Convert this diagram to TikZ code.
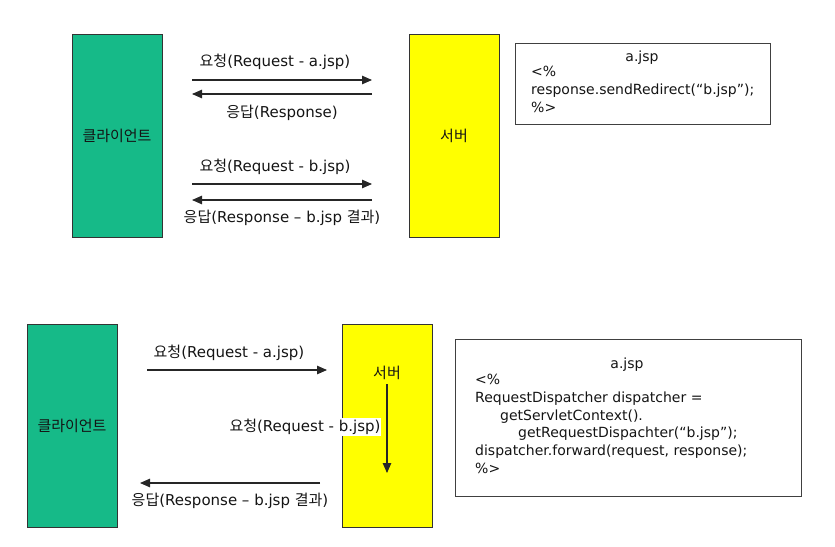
\documentclass[tikz,border=0pt]{standalone}
\usepackage{fontspec}
\setmainfont{DejaVu Sans}
\newfontfamily\krfont{Noto Sans CJK KR}
\newcommand{\kr}[1]{{\krfont #1}}
\usetikzlibrary{arrows.meta,positioning}
\definecolor{clientgreen}{RGB}{22,186,136}
\definecolor{serveryellow}{RGB}{255,255,0}

\begin{document}
\begin{tikzpicture}[x=1pt, y=-1pt, font=\fontsize{15}{18}\selectfont,
                    every node/.style={inner sep=1pt, text=black!92},
                    actor/.style={draw=black!80, line width=0.9pt, minimum width=90pt, minimum height=203pt},
                    msg/.style={draw=black!85, line width=1.1pt, -{Triangle[length=10pt,width=8.5pt]}},
                    codebox/.style={draw=black!75, line width=0.9pt},
                    code/.style={font=\fontsize{14}{17.8}\selectfont}]
\useasboundingbox (0,0) rectangle (835,546);
% sendRedirect
\node[actor, fill=clientgreen] (clientA) at (117,135.5) {\kr{클라이언트}};
\node[actor, fill=serveryellow] (serverA) at (454,135.5) {\kr{서버}};
\coordinate (reqAs) at (192,80);  \coordinate (reqAe) at (372,80);
\coordinate (resAs) at (372,94);  \coordinate (resAe) at (192,94);
\coordinate (reqBs) at (192,184); \coordinate (reqBe) at (372,184);
\coordinate (resBs) at (372,200); \coordinate (resBe) at (192,200);
\draw[msg] (reqAs) -- (reqAe);
\draw[msg] (resAs) -- (resAe);
\draw[msg] (reqBs) -- (reqBe);
\draw[msg] (resBs) -- (resBe);
\node (reqAlbl) at (275,62)  {\kr{요청}(Request - a.jsp)};
\node (resAlbl) at (282,113) {\kr{응답}(Response)};
\node (reqBlbl) at (275,167) {\kr{요청}(Request - b.jsp)};
\node (resBlbl) at (282,218) {\kr{응답}(Response – b.jsp \kr{결과})};
\node[codebox, minimum width=255pt, minimum height=81pt] (codeA) at (642.5,83.5) {};
\node[code] (codeAtitle) at (642,58) {a.jsp};
\node[code, anchor=north west, align=left, inner sep=0pt] (codeAbody) at (531,66)
  {<\%\\response.sendRedirect(“b.jsp”);\\\%>};
% forward
\node[actor, fill=clientgreen] (clientB) at (72,426) {\kr{클라이언트}};
\node[actor, fill=serveryellow] (serverB) at (387,426) {};
\node (serverBlbl) at (387,373) {\kr{서버}};
\coordinate (fwdAs) at (147,370); \coordinate (fwdAe) at (327,370);
\coordinate (fwdBs) at (387,384); \coordinate (fwdBe) at (387,473);
\coordinate (fwdCs) at (320,483); \coordinate (fwdCe) at (140,483);
\draw[msg] (fwdAs) -- (fwdAe);
\draw[msg] (fwdBs) -- (fwdBe);
\draw[msg] (fwdCs) -- (fwdCe);
\node (fwdAlbl) at (229,353) {\kr{요청}(Request - a.jsp)};
\node[fill=white] (fwdBlbl) at (305,427) {\kr{요청}(Request - b.jsp)};
\node (fwdClbl) at (230,501) {\kr{응답}(Response – b.jsp \kr{결과})};
\node[codebox, minimum width=346pt, minimum height=157pt] (codeB) at (628,417.5) {};
\node[code] (codeBtitle) at (627,365) {a.jsp};
\node[code, anchor=north west, align=left, inner sep=0pt] (codeBbody) at (475,374)
  {<\%\\RequestDispatcher dispatcher =\\\hspace*{25pt}getServletContext().\\
   \hspace*{43pt}getRequestDispachter(“b.jsp”);\\dispatcher.forward(request, response);\\\%>};
\end{tikzpicture}
\end{document}
